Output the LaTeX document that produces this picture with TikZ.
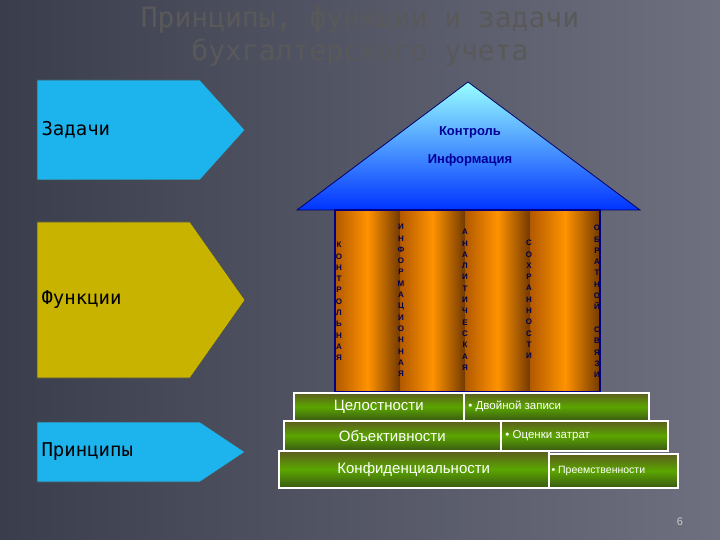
\documentclass[tikz,border=0pt]{standalone}
\usepackage{fontspec}
\setmainfont{DejaVu Sans}
\newfontfamily\monof{DejaVu Sans Mono}
\newfontfamily\arialf{Liberation Sans}
\begin{document}
\begin{tikzpicture}[x=1pt,y=-1pt,
  arrowbox/.style={draw=black!70,line width=0.6pt},
  vlet/.style={font=\arialf\bfseries\fontsize{8}{11.3}\selectfont,text=blue!30!black,align=center,anchor=north,inner sep=0pt},
  stepbox/.style={draw=white,line width=1.5pt,top color=brown!80!green!60!black,bottom color=brown!60!green!50!black,middle color=green!45!yellow!65!black},
  steplbl/.style={font=\arialf\fontsize{15}{16}\selectfont,text=white},
  bullbl/.style={font=\arialf\fontsize{11.5}{12}\selectfont,text=white}]
\definecolor{bgA}{HTML}{3A3D4C}\definecolor{bgB}{HTML}{6E7080}
\definecolor{skyb}{HTML}{1DB4EE}\definecolor{olv}{HTML}{C8B400}
\useasboundingbox (0,0) rectangle (720,540);
\shade[left color=bgA,right color=bgB] (0,0) rectangle (720,540);
\node (t1) at (360,20) {\monof\fontsize{28}{30}\selectfont\color{black!65}Принципы, функции и задачи};
\node (t2) at (360,53) {\monof\fontsize{28}{30}\selectfont\color{black!65}бухгалтерского учета};
% left arrows
\fill[arrowbox,fill=skyb] (37,80)--(200,80)--(245,130)--(200,180)--(37,180)--cycle;
\node[anchor=west] (z) at (38,130) {\monof\fontsize{19}{21}\selectfont Задачи};
\fill[arrowbox,fill=olv] (37,222)--(190,222)--(245,300)--(190,378)--(37,378)--cycle;
\node[anchor=west] (f) at (38,300) {\monof\fontsize{19}{21}\selectfont Функции};
\fill[arrowbox,fill=skyb] (37,422)--(200,422)--(245,452)--(200,482)--(37,482)--cycle;
\node[anchor=west] (p) at (38,452) {\monof\fontsize{19}{21}\selectfont Принципы};
% roof
\shade[top color=cyan!40,bottom color=blue!80!cyan] (297,210)--(468,82)--(640,210)--cycle;
\draw[blue!40!black,line width=0.8pt] (297,210)--(468,82)--(640,210)--cycle;
\node (k) at (470,132) {\arialf\bfseries\fontsize{13}{15}\selectfont\color{blue!60!black}Контроль};
\node (i) at (470,160) {\arialf\bfseries\fontsize{13}{15}\selectfont\color{blue!60!black}Информация};
% columns
\foreach \a/\b in {335/400,400/465,465/530,530/600}{
 \shade[left color=orange!70!black,right color=orange!45!black,middle color=orange!85!yellow] (\a,210) rectangle (\b,392);}
\draw[blue!50!black,line width=1.2pt] (335,210) rectangle (600,392);
\node[vlet] (c1) at (339,242) {К\\О\\Н\\Т\\Р\\О\\Л\\Ь\\Н\\А\\Я};
\node[vlet] (c2) at (401,224) {И\\Н\\Ф\\О\\Р\\М\\А\\Ц\\И\\О\\Н\\Н\\А\\Я};
\node[vlet] (c3) at (465,229) {А\\Н\\А\\Л\\И\\Т\\И\\Ч\\Е\\С\\К\\А\\Я};
\node[vlet] (c4) at (529,240) {С\\О\\Х\\Р\\А\\Н\\Н\\О\\С\\Т\\И};
\node[vlet] (c5) at (597,225) {О\\Б\\Р\\А\\Т\\Н\\О\\Й\\\\С\\В\\Я\\З\\И};
% steps
\node[stepbox,minimum width=170,minimum height=28,anchor=north west] (s1) at (293,392) {};
\node[steplbl] at (s1) {Целостности};
\node[stepbox,minimum width=185,minimum height=28,anchor=north west] (b1) at (463,392) {};
\node[bullbl,anchor=west] at (b1.west) {\,• Двойной записи};
\node[stepbox,minimum width=217,minimum height=30,anchor=north west] (s2) at (283,420) {};
\node[steplbl] at (s2) {Объективности};
\node[stepbox,minimum width=167,minimum height=30,anchor=north west] (b2) at (500,420) {};
\node[bullbl,anchor=west] at (b2.west) {\,• Оценки затрат};
\node[stepbox,minimum width=270,minimum height=37,anchor=north west] (s3) at (278,450) {};
\node[steplbl] at (s3) {Конфиденциальности};
\node[stepbox,minimum width=129,minimum height=34,anchor=north west] (b3) at (548,453) {};
\node[bullbl,font=\arialf\fontsize{10.5}{12}\selectfont,anchor=west] at (b3.west) {• Преемственности};
\node (n) at (680,522) {\arialf\fontsize{11}{12}\selectfont\color{black!20}6};
\end{tikzpicture}
\end{document}
